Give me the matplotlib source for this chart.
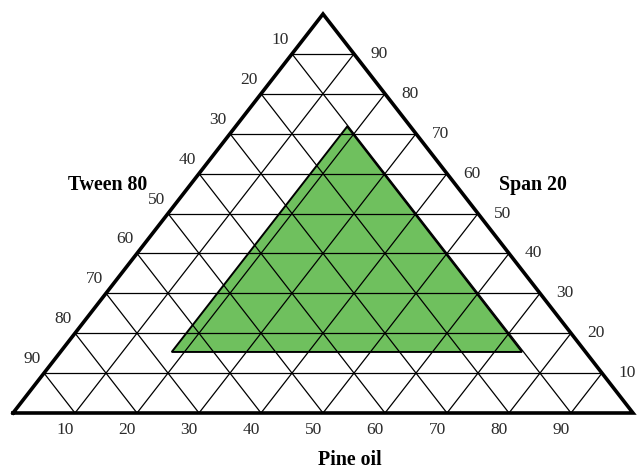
import matplotlib.pyplot as plt
from matplotlib.patches import Polygon

# grid levels (percent) and labels
niveles = [10, 20, 30, 40, 50, 60, 70, 80, 90]
etiquetas_izq = [90, 80, 70, 60, 50, 40, 30, 20, 10]   # Tween 80, per horizontal line
etiquetas_der = [10, 20, 30, 40, 50, 60, 70, 80, 90]   # Span 20, per horizontal line
etiquetas_base = [10, 20, 30, 40, 50, 60, 70, 80, 90]  # Pine oil

# green region (x along base, y height)
region_x = [25.6, 82.1, 53.9]
region_y = [15.3, 15.3, 71.8]

fig = plt.figure(figsize=(6.39, 4.70), dpi=100)
ax = fig.add_axes([13 / 639, 57 / 470, 620 / 639, 399 / 470])
ax.set_xlim(0, 100)
ax.set_ylim(0, 100)
ax.axis('off')

# green area
verde = Polygon(list(zip(region_x, region_y)), closed=True, facecolor='#6fc05e',
                edgecolor='black', linewidth=1.4, zorder=1)
ax.add_patch(verde)

# grid lines
for n in niveles:
    # horizontal
    ax.plot([n / 2, 100 - n / 2], [n, n], color='black', lw=0.9, zorder=2)
    # parallel to left edge
    ax.plot([n, n + (100 - n) / 2], [0, 100 - n], color='black', lw=0.9, zorder=2)
    # parallel to right edge
    ax.plot([n, n / 2], [0, n], color='black', lw=0.9, zorder=2)

# outer triangle
ax.plot([0, 100, 50, 0], [0, 0, 100, 0], color='black', lw=2.6, zorder=3,
        solid_joinstyle='miter', clip_on=False)

fuente = 'Liberation Serif'
tam = 12.5
for n, lab in zip(niveles, etiquetas_izq):
    ax.text(n / 2 - 1.9, n + 3.5, str(lab), ha='center', va='center',
            fontsize=tam, family=fuente, color='#2a2a2a', clip_on=False)
for n, lab in zip(niveles, etiquetas_der):
    ax.text(100 - n / 2 + 4.0, n, str(lab), ha='center', va='center',
            fontsize=tam, family=fuente, color='#2a2a2a', clip_on=False)
for n, lab in zip(niveles, etiquetas_base):
    ax.text(n - 1.6, -4.2, str(lab), ha='center', va='center',
            fontsize=tam, family=fuente, color='#2a2a2a', clip_on=False)

ax.text(15.3, 57.1, 'Tween 80', ha='center', va='center', fontsize=14.3,
        fontweight='bold', family=fuente, clip_on=False)
ax.text(83.9, 57.1, 'Span 20', ha='center', va='center', fontsize=14.3,
        fontweight='bold', family=fuente, clip_on=False)
ax.text(54.4, -11.7, 'Pine oil', ha='center', va='center', fontsize=14.3,
        fontweight='bold', family=fuente, clip_on=False)

fig.savefig('out.png', dpi=100)
